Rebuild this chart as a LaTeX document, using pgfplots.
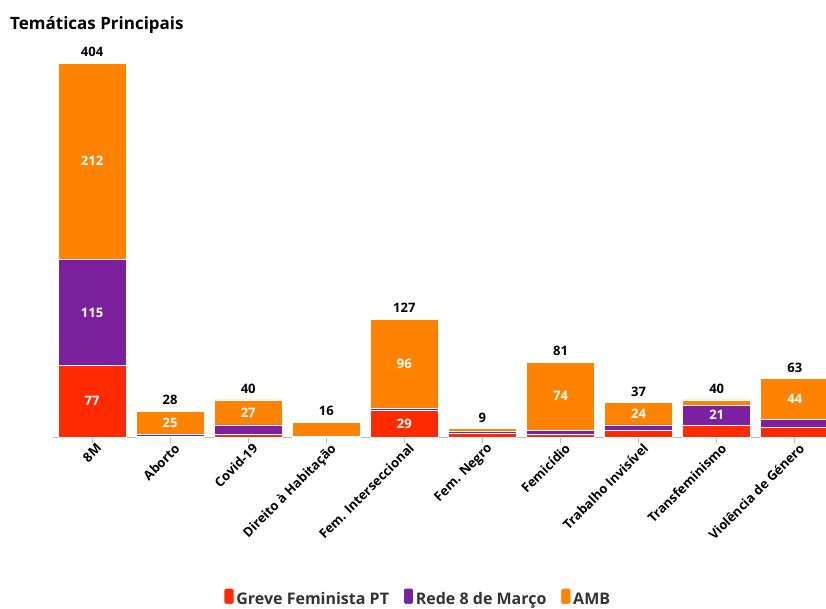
\documentclass[border=0pt]{standalone}
\usepackage{fontspec}
\setmainfont{Open Sans}
\setsansfont{Open Sans}
\usepackage{pgfplots}
\pgfplotsset{compat=1.18}
\definecolor{cRed}{HTML}{FF2A00}
\definecolor{cPurple}{HTML}{7B219F}
\definecolor{cOrange}{HTML}{FF8300}
\definecolor{cGrid}{HTML}{E8E8E8}
\definecolor{cAxis}{HTML}{BBBBBB}
\definecolor{cLegText}{HTML}{333333}
\begin{document}
\begin{tikzpicture}
\useasboundingbox (0pt,0pt) rectangle (826pt,608pt);
\node[anchor=base west, inner sep=0pt, font=\bfseries\fontsize{17}{20}\selectfont] at (10pt,578pt) {Temáticas Principais};
\begin{axis}[
  at={(53pt,171pt)}, anchor=south west,
  scale only axis, width=773pt, height=379.5pt,
  xmin=-0.5, xmax=9.4, ymin=0, ymax=410,
  ybar stacked, bar width=68pt,
  axis x line*=bottom, axis y line=none,
  x axis line style={cAxis, line width=0.8pt, -},
  xtick={0,...,9},
  xticklabels={8M,Aborto,Covid-19,Direito à Habitação,Fem. Interseccional,Fem. Negro,Femicídio,Trabalho Invisível,Transfeminismo,Violência de Género},
  xticklabel style={rotate=45, anchor=north east, font=\bfseries\fontsize{13}{15}\selectfont, inner sep=1pt, xshift=4pt, yshift=-1pt},
  xtick align=outside, major tick length=6pt,
  x tick style={cAxis, line width=0.8pt},
  ytick={100,200,300,400}, ymajorgrids,
  grid style={cGrid, line width=0.8pt},
  legend style={at={(0.472,-0.424)}, anchor=center, draw=none, fill=none,
    legend columns=3, font=\bfseries\fontsize{16}{18}\selectfont, text=cLegText,
    /tikz/every even column/.append style={column sep=12pt},
    legend cell align=left},
  legend image code/.code={\fill[rounded corners=1.5pt] (0pt,-5pt) rectangle (10pt,11pt);},
]
\addplot[fill=cRed, draw=white, line width=0.8pt] coordinates {(0,77) (1,1) (2,3) (3,1) (4,29) (5,4) (6,3) (7,7) (8,13) (9,10)};
\addlegendentry{Greve Feminista PT}
\addplot[fill=cPurple, draw=white, line width=0.8pt] coordinates {(0,115) (1,2) (2,10) (3,0) (4,2) (5,2) (6,4) (7,6) (8,21) (9,9)};
\addlegendentry{Rede 8 de Março}
\addplot[fill=cOrange, draw=white, line width=0.8pt] coordinates {(0,212) (1,25) (2,27) (3,15) (4,96) (5,3) (6,74) (7,24) (8,6) (9,44)};
\addlegendentry{AMB}
\end{axis}
\begin{axis}[
  at={(53pt,171pt)}, anchor=south west,
  scale only axis, width=773pt, height=379.5pt,
  xmin=-0.5, xmax=9.4, ymin=0, ymax=410,
  axis lines=none, clip=false,
]
\addplot[only marks, mark=none, nodes near coords, point meta=explicit symbolic,
  every node near coord/.style={anchor=center, text=white, font=\bfseries\fontsize{13}{15}\selectfont}]
  table[meta=l] {
x y l
0 38.5 77
0 134.5 115
0 298 212
1 15.5 25
2 26.5 27
4 14.5 29
4 79 96
6 44 74
7 25 24
8 23.5 21
9 41 44
};
\addplot[only marks, mark=none, nodes near coords, point meta=explicit symbolic,
  every node near coord/.style={anchor=south, yshift=3pt, text=black, font=\bfseries\fontsize{13}{15}\selectfont}]
  table[meta=l] {
x y l
0 404 404
1 28 28
2 40 40
3 16 16
4 127 127
5 9 9
6 81 81
7 37 37
8 40 40
9 63 63
};
\end{axis}
\end{tikzpicture}
\end{document}
